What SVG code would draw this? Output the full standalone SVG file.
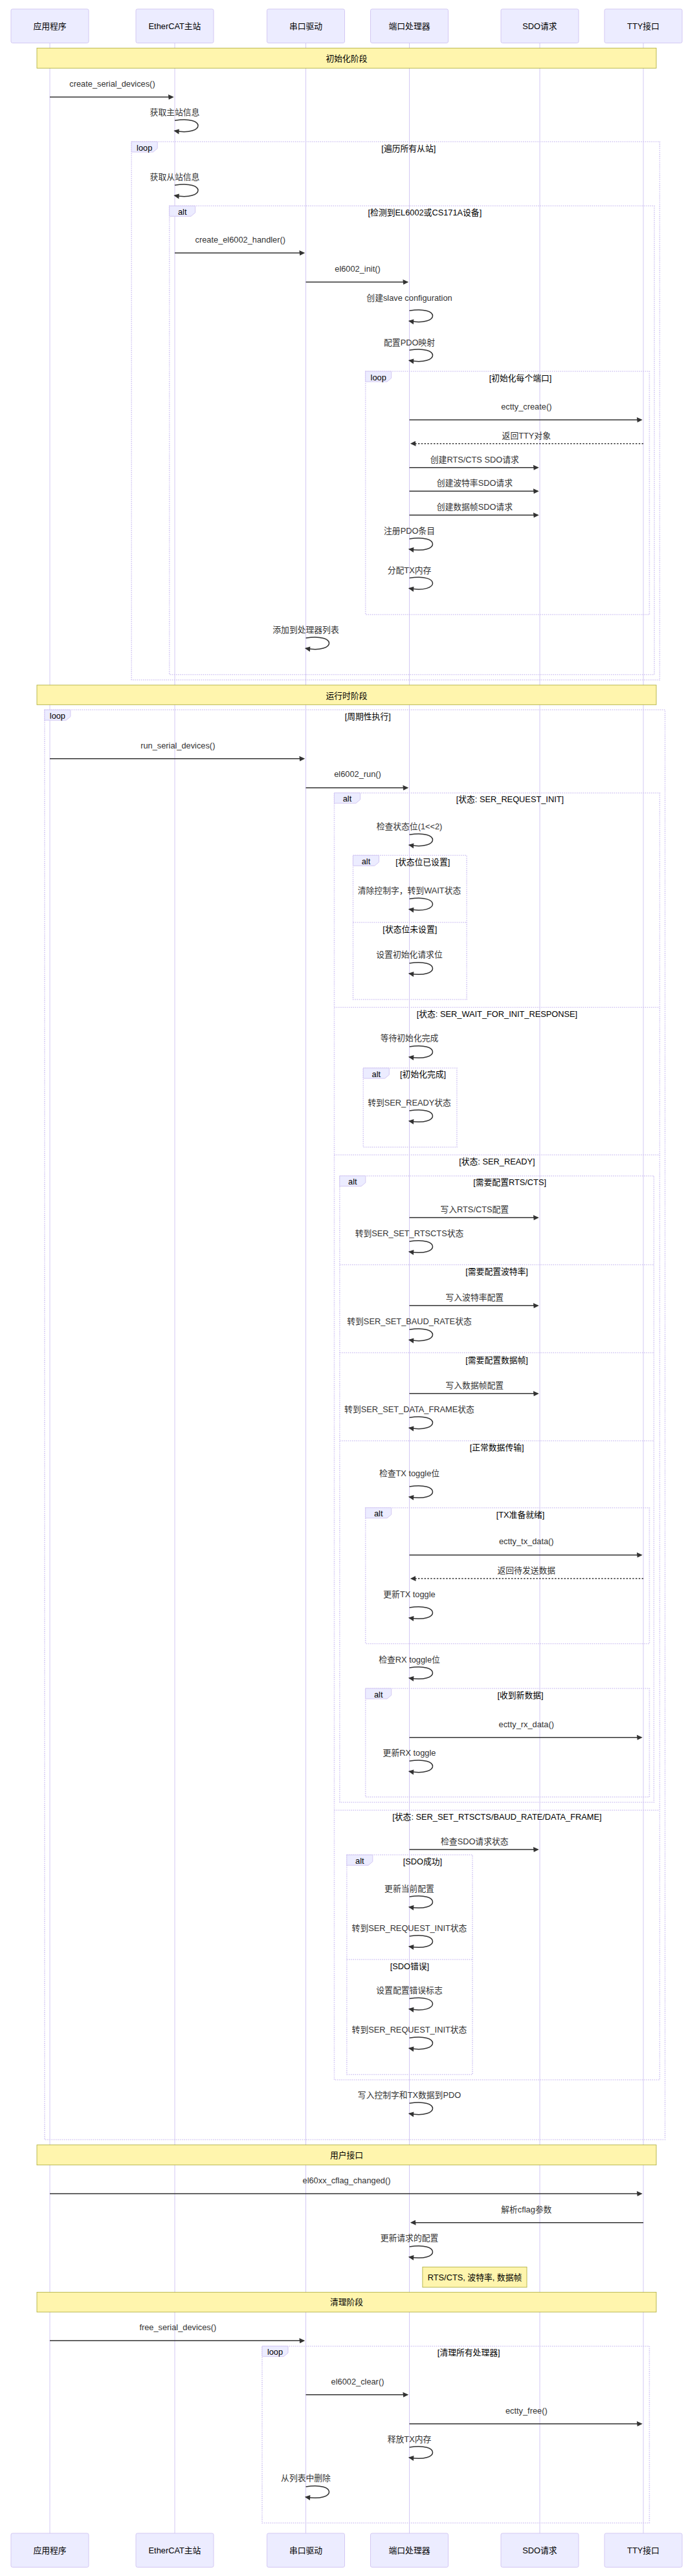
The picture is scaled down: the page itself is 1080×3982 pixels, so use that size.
<svg xmlns="http://www.w3.org/2000/svg" width="1080" height="3982" viewBox="0 0 1080 3982">
<style>
text{font-family:"Liberation Sans","Noto Sans CJK SC",sans-serif;font-size:12.8px;text-anchor:middle;dominant-baseline:central}
.actor rect{fill:#ECECFF;stroke:#D3C8F3;stroke-width:1}
.actor text{fill:#000}
.life{stroke:#D3C8F3;stroke-width:1}
.frame{fill:none;stroke:#D3C8F3;stroke-width:1.6;stroke-dasharray:1.6 1.6}
.lbl{fill:#ECECFF;stroke:#D3C8F3;stroke-width:1}
.lt{fill:#000}
.ct{fill:#000}
.note rect{fill:#fff5ad;stroke:#aaaa33;stroke-width:0.8}
.note text{fill:#000}
.m{stroke:#333;stroke-width:1.5;fill:none;marker-end:url(#ah)}
.d{stroke-dasharray:2.4 2.4}
.mt{fill:#333}
</style>
<defs>
<marker id="ah" markerUnits="userSpaceOnUse" markerWidth="10" markerHeight="10" refX="6.3" refY="4" orient="auto" overflow="visible"><path d="M -0.8 0 L 8 4 L 0 8 z" fill="#333"/></marker>
</defs>
<rect width="1080" height="3982" fill="#fff"/>
<g id="lifelines">
<line class="life" x1="77" y1="66" x2="77" y2="3916"/>
<line class="life" x1="270" y1="66" x2="270" y2="3916"/>
<line class="life" x1="472.5" y1="66" x2="472.5" y2="3916"/>
<line class="life" x1="632.5" y1="66" x2="632.5" y2="3916"/>
<line class="life" x1="834" y1="66" x2="834" y2="3916"/>
<line class="life" x1="994" y1="66" x2="994" y2="3916"/>
</g>
<g id="actor-app" class="actor"><rect x="17" y="14" width="120" height="52.4" rx="2.4"/><text x="77" y="40.5">应用程序</text><rect x="17" y="3916" width="120" height="52.4" rx="2.4"/><text x="77" y="3942">应用程序</text></g>
<g id="actor-master" class="actor"><rect x="210" y="14" width="120" height="52.4" rx="2.4"/><text x="270" y="40.5">EtherCAT主站</text><rect x="210" y="3916" width="120" height="52.4" rx="2.4"/><text x="270" y="3942">EtherCAT主站</text></g>
<g id="actor-serial" class="actor"><rect x="412.5" y="14" width="120" height="52.4" rx="2.4"/><text x="472.5" y="40.5">串口驱动</text><rect x="412.5" y="3916" width="120" height="52.4" rx="2.4"/><text x="472.5" y="3942">串口驱动</text></g>
<g id="actor-port" class="actor"><rect x="572.5" y="14" width="120" height="52.4" rx="2.4"/><text x="632.5" y="40.5">端口处理器</text><rect x="572.5" y="3916" width="120" height="52.4" rx="2.4"/><text x="632.5" y="3942">端口处理器</text></g>
<g id="actor-sdo" class="actor"><rect x="774" y="14" width="120" height="52.4" rx="2.4"/><text x="834" y="40.5">SDO请求</text><rect x="774" y="3916" width="120" height="52.4" rx="2.4"/><text x="834" y="3942">SDO请求</text></g>
<g id="actor-tty" class="actor"><rect x="934" y="14" width="120" height="52.4" rx="2.4"/><text x="994" y="40.5">TTY接口</text><rect x="934" y="3916" width="120" height="52.4" rx="2.4"/><text x="994" y="3942">TTY接口</text></g>

<g id="frames">
<!-- loop 遍历所有从站 -->
<rect class="frame" x="203.2" y="219" width="816.1" height="832"/>
<polygon class="lbl" points="203.2,219 243.2,219 243.2,229.4 236.5,235 203.2,235"/><text class="lt" x="223.2" y="228">loop</text>
<text class="ct" x="631.3" y="229">[遍历所有从站]</text>
<!-- alt 检测 -->
<rect class="frame" x="261.7" y="318.3" width="749.3" height="724.4"/>
<polygon class="lbl" points="261.7,318.3 301.7,318.3 301.7,328.7 295,334.3 261.7,334.3"/><text class="lt" x="281.7" y="327.3">alt</text>
<text class="ct" x="656.4" y="328.3">[检测到EL6002或CS171A设备]</text>
<!-- loop 初始化每个端口 -->
<rect class="frame" x="564.7" y="574" width="438.7" height="376"/>
<polygon class="lbl" points="564.7,574 604.7,574 604.7,584.4 598,590 564.7,590"/><text class="lt" x="584.7" y="583">loop</text>
<text class="ct" x="804" y="584">[初始化每个端口]</text>
<!-- loop 周期性执行 -->
<rect class="frame" x="68.9" y="1097.3" width="958.6" height="2210.2"/>
<polygon class="lbl" points="68.9,1097.3 108.9,1097.3 108.9,1107.7 102.2,1113.3 68.9,1113.3"/><text class="lt" x="88.9" y="1106.3">loop</text>
<text class="ct" x="568.2" y="1107.3">[周期性执行]</text>
<!-- alt 状态 -->
<rect class="frame" x="516.5" y="1225.7" width="502.8" height="1989.3"/>
<polygon class="lbl" points="516.5,1225.7 556.5,1225.7 556.5,1236.1 549.8,1241.7 516.5,1241.7"/><text class="lt" x="536.5" y="1234.7">alt</text>
<text class="ct" x="787.9" y="1235.7">[状态: SER_REQUEST_INIT]</text>
<line class="frame" x1="516.5" y1="1557.3" x2="1019.3" y2="1557.3"/><text class="ct" x="767.9" y="1567.3">[状态: SER_WAIT_FOR_INIT_RESPONSE]</text>
<line class="frame" x1="516.5" y1="1785.3" x2="1019.3" y2="1785.3"/><text class="ct" x="767.9" y="1795.3">[状态: SER_READY]</text>
<line class="frame" x1="516.5" y1="2798.3" x2="1019.3" y2="2798.3"/><text class="ct" x="767.9" y="2808.3">[状态: SER_SET_RTSCTS/BAUD_RATE/DATA_FRAME]</text>
<!-- alt 状态位 -->
<rect class="frame" x="545.5" y="1322.3" width="175.6" height="222.7"/>
<polygon class="lbl" points="545.5,1322.3 585.5,1322.3 585.5,1332.7 578.8,1338.3 545.5,1338.3"/><text class="lt" x="565.5" y="1331.3">alt</text>
<text class="ct" x="653.3" y="1332.3">[状态位已设置]</text>
<line class="frame" x1="545.5" y1="1425.7" x2="721.1" y2="1425.7"/><text class="ct" x="633.3" y="1436">[状态位未设置]</text>
<!-- alt 初始化完成 -->
<rect class="frame" x="561.3" y="1651" width="144.6" height="122.3"/>
<polygon class="lbl" points="561.3,1651 601.3,1651 601.3,1661.4 594.6,1667 561.3,1667"/><text class="lt" x="581.3" y="1660">alt</text>
<text class="ct" x="653.6" y="1660">[初始化完成]</text>
<!-- alt 需要配置 -->
<rect class="frame" x="524.8" y="1817.7" width="485.5" height="968.3"/>
<polygon class="lbl" points="524.8,1817.7 564.8,1817.7 564.8,1828.1 558.1,1833.7 524.8,1833.7"/><text class="lt" x="544.8" y="1826.7">alt</text>
<text class="ct" x="787.6" y="1827.3">[需要配置RTS/CTS]</text>
<line class="frame" x1="524.8" y1="1955" x2="1010.3" y2="1955"/><text class="ct" x="767.6" y="1965">[需要配置波特率]</text>
<line class="frame" x1="524.8" y1="2091" x2="1010.3" y2="2091"/><text class="ct" x="767.6" y="2102">[需要配置数据帧]</text>
<line class="frame" x1="524.8" y1="2227.3" x2="1010.3" y2="2227.3"/><text class="ct" x="767.6" y="2237.3">[正常数据传输]</text>
<!-- alt TX -->
<rect class="frame" x="564.7" y="2330.7" width="438.7" height="210"/>
<polygon class="lbl" points="564.7,2330.7 604.7,2330.7 604.7,2341.1 598,2346.7 564.7,2346.7"/><text class="lt" x="584.7" y="2339.7">alt</text>
<text class="ct" x="804" y="2341">[TX准备就绪]</text>
<!-- alt RX -->
<rect class="frame" x="564.7" y="2610" width="438.7" height="167.7"/>
<polygon class="lbl" points="564.7,2610 604.7,2610 604.7,2620.4 598,2626 564.7,2626"/><text class="lt" x="584.7" y="2619">alt</text>
<text class="ct" x="804" y="2620">[收到新数据]</text>
<!-- alt SDO -->
<rect class="frame" x="535.8" y="2867.3" width="194.2" height="339.4"/>
<polygon class="lbl" points="535.8,2867.3 575.8,2867.3 575.8,2877.7 569.1,2883.3 535.8,2883.3"/><text class="lt" x="555.8" y="2876.3">alt</text>
<text class="ct" x="652.9" y="2877.3">[SDO成功]</text>
<line class="frame" x1="535.8" y1="3029" x2="730" y2="3029"/><text class="ct" x="632.9" y="3039.3">[SDO错误]</text>
<!-- loop 清理 -->
<rect class="frame" x="405" y="3626.7" width="598.4" height="273.3"/>
<polygon class="lbl" points="405,3626.7 445,3626.7 445,3637.1 438.3,3642.7 405,3642.7"/><text class="lt" x="425" y="3635.7">loop</text>
<text class="ct" x="724.2" y="3636.7">[清理所有处理器]</text>
</g>

<g id="notes">
<g id="note-init" class="note"><rect x="57" y="74.3" width="957" height="31"/><text x="535.5" y="90">初始化阶段</text></g>
<g id="note-run" class="note"><rect x="57" y="1059" width="957" height="30.3"/><text x="535.5" y="1075">运行时阶段</text></g>
<g id="note-user" class="note"><rect x="57" y="3315.7" width="957" height="31"/><text x="535.5" y="3331">用户接口</text></g>
<g id="note-cfg" class="note"><rect x="652.9" y="3504.3" width="161.1" height="31.4"/><text x="733.5" y="3520">RTS/CTS, 波特率, 数据帧</text></g>
<g id="note-clean" class="note"><rect x="57" y="3543.3" width="957" height="30.7"/><text x="535.5" y="3558.3">清理阶段</text></g>
</g>

<g id="messages">
<text class="mt" x="173.5" y="129.3">create_serial_devices()</text><line class="m" x1="77" y1="150" x2="267" y2="150"/>
<text class="mt" x="270" y="173.3">获取主站信息</text><path class="m" d="M270,186.3 C318,178.3 318,210.3 270,202.3"/>
<text class="mt" x="270" y="273.3">获取从站信息</text><path class="m" d="M270,286.3 C318,278.3 318,310.3 270,302.3"/>
<text class="mt" x="371.3" y="370.7">create_el6002_handler()</text><line class="m" x1="270" y1="391" x2="469.5" y2="391"/>
<text class="mt" x="552.5" y="415">el6002_init()</text><line class="m" x1="472.5" y1="436" x2="629.5" y2="436"/>
<text class="mt" x="632.5" y="460">创建slave configuration</text><path class="m" d="M632.5,480.3 C680.5,472.3 680.5,504.3 632.5,496.3"/>
<text class="mt" x="632.5" y="529">配置PDO映射</text><path class="m" d="M632.5,541.3 C680.5,533.3 680.5,565.3 632.5,557.3"/>
<text class="mt" x="813.3" y="628.3">ectty_create()</text><line class="m" x1="632.5" y1="649" x2="991" y2="649"/>
<text class="mt" x="813.3" y="673.3">返回TTY对象</text><line class="m d" x1="994" y1="685.7" x2="635.5" y2="685.7"/>
<text class="mt" x="733.3" y="710">创建RTS/CTS SDO请求</text><line class="m" x1="632.5" y1="722.7" x2="831" y2="722.7"/>
<text class="mt" x="733.3" y="746.7">创建波特率SDO请求</text><line class="m" x1="632.5" y1="759.3" x2="831" y2="759.3"/>
<text class="mt" x="733.3" y="783.3">创建数据帧SDO请求</text><line class="m" x1="632.5" y1="796.3" x2="831" y2="796.3"/>
<text class="mt" x="632.5" y="820">注册PDO条目</text><path class="m" d="M632.5,833 C680.5,825 680.5,857 632.5,849"/>
<text class="mt" x="632.5" y="881">分配TX内存</text><path class="m" d="M632.5,893.6 C680.5,885.6 680.5,917.6 632.5,909.6"/>
<text class="mt" x="472.5" y="973.3">添加到处理器列表</text><path class="m" d="M472.5,986.3 C520.5,978.3 520.5,1010.3 472.5,1002.3"/>
<text class="mt" x="274.8" y="1152.3">run_serial_devices()</text><line class="m" x1="77" y1="1172.7" x2="469.5" y2="1172.7"/>
<text class="mt" x="552.5" y="1196.7">el6002_run()</text><line class="m" x1="472.5" y1="1217.7" x2="629.5" y2="1217.7"/>
<text class="mt" x="632.5" y="1277.3">检查状态位(1&lt;&lt;2)</text><path class="m" d="M632.5,1290.3 C680.5,1282.3 680.5,1314.3 632.5,1306.3"/>
<text class="mt" x="632.5" y="1376.7">清除控制字，转到WAIT状态</text><path class="m" d="M632.5,1389.6 C680.5,1381.6 680.5,1413.6 632.5,1405.6"/>
<text class="mt" x="632.5" y="1475.3">设置初始化请求位</text><path class="m" d="M632.5,1489 C680.5,1481 680.5,1513 632.5,1505"/>
<text class="mt" x="632.5" y="1604.3">等待初始化完成</text><path class="m" d="M632.5,1618 C680.5,1610 680.5,1642 632.5,1634"/>
<text class="mt" x="632.5" y="1704">转到SER_READY状态</text><path class="m" d="M632.5,1717 C680.5,1709 680.5,1741 632.5,1733"/>
<text class="mt" x="733.3" y="1869">写入RTS/CTS配置</text><line class="m" x1="632.5" y1="1882.3" x2="831" y2="1882.3"/>
<text class="mt" x="632.5" y="1906">转到SER_SET_RTSCTS状态</text><path class="m" d="M632.5,1919 C680.5,1911 680.5,1943 632.5,1935"/>
<text class="mt" x="733.3" y="2005">写入波特率配置</text><line class="m" x1="632.5" y1="2018.3" x2="831" y2="2018.3"/>
<text class="mt" x="632.5" y="2042">转到SER_SET_BAUD_RATE状态</text><path class="m" d="M632.5,2055.3 C680.5,2047.3 680.5,2079.3 632.5,2071.3"/>
<text class="mt" x="733.3" y="2141.7">写入数据帧配置</text><line class="m" x1="632.5" y1="2154.3" x2="831" y2="2154.3"/>
<text class="mt" x="632.5" y="2178.3">转到SER_SET_DATA_FRAME状态</text><path class="m" d="M632.5,2191.3 C680.5,2183.3 680.5,2215.3 632.5,2207.3"/>
<text class="mt" x="632.5" y="2277.7">检查TX toggle位</text><path class="m" d="M632.5,2298 C680.5,2290 680.5,2322 632.5,2314"/>
<text class="mt" x="813.3" y="2382.3">ectty_tx_data()</text><line class="m" x1="632.5" y1="2403.7" x2="991" y2="2403.7"/>
<text class="mt" x="813.3" y="2427.3">返回待发送数据</text><line class="m d" x1="994" y1="2440.3" x2="635.5" y2="2440.3"/>
<text class="mt" x="632.5" y="2464.3">更新TX toggle</text><path class="m" d="M632.5,2485 C680.5,2477 680.5,2509 632.5,2501"/>
<text class="mt" x="632.5" y="2565">检查RX toggle位</text><path class="m" d="M632.5,2578 C680.5,2570 680.5,2602 632.5,2594"/>
<text class="mt" x="813.3" y="2665">ectty_rx_data()</text><line class="m" x1="632.5" y1="2685.7" x2="991" y2="2685.7"/>
<text class="mt" x="632.5" y="2709.3">更新RX toggle</text><path class="m" d="M632.5,2722.3 C680.5,2714.3 680.5,2746.3 632.5,2738.3"/>
<text class="mt" x="733.3" y="2846.7">检查SDO请求状态</text><line class="m" x1="632.5" y1="2859" x2="831" y2="2859"/>
<text class="mt" x="632.5" y="2919">更新当前配置</text><path class="m" d="M632.5,2932 C680.5,2924 680.5,2956 632.5,2948"/>
<text class="mt" x="632.5" y="2980">转到SER_REQUEST_INIT状态</text><path class="m" d="M632.5,2993 C680.5,2985 680.5,3017 632.5,3009"/>
<text class="mt" x="632.5" y="3076.7">设置配置错误标志</text><path class="m" d="M632.5,3089.6 C680.5,3081.6 680.5,3113.6 632.5,3105.6"/>
<text class="mt" x="632.5" y="3137.3">转到SER_REQUEST_INIT状态</text><path class="m" d="M632.5,3150.3 C680.5,3142.3 680.5,3174.3 632.5,3166.3"/>
<text class="mt" x="632.5" y="3238.3">写入控制字和TX数据到PDO</text><path class="m" d="M632.5,3251.3 C680.5,3243.3 680.5,3275.3 632.5,3267.3"/>
<text class="mt" x="535.5" y="3370">el60xx_cflag_changed()</text><line class="m" x1="77" y1="3391" x2="991" y2="3391"/>
<text class="mt" x="813.3" y="3415">解析cflag参数</text><line class="m" x1="994" y1="3435.7" x2="635.5" y2="3435.7"/>
<text class="mt" x="632.5" y="3459.3">更新请求的配置</text><path class="m" d="M632.5,3473 C680.5,3465 680.5,3497 632.5,3489"/>
<text class="mt" x="274.8" y="3597.7">free_serial_devices()</text><line class="m" x1="77" y1="3618.3" x2="469.5" y2="3618.3"/>
<text class="mt" x="552.5" y="3681">el6002_clear()</text><line class="m" x1="472.5" y1="3701.7" x2="629.5" y2="3701.7"/>
<text class="mt" x="813.3" y="3726">ectty_free()</text><line class="m" x1="632.5" y1="3746.7" x2="991" y2="3746.7"/>
<text class="mt" x="632.5" y="3770">释放TX内存</text><path class="m" d="M632.5,3783 C680.5,3775 680.5,3807 632.5,3799"/>
<text class="mt" x="472.5" y="3830.7">从列表中删除</text><path class="m" d="M472.5,3844 C520.5,3836 520.5,3868 472.5,3860"/>
</g>
</svg>
